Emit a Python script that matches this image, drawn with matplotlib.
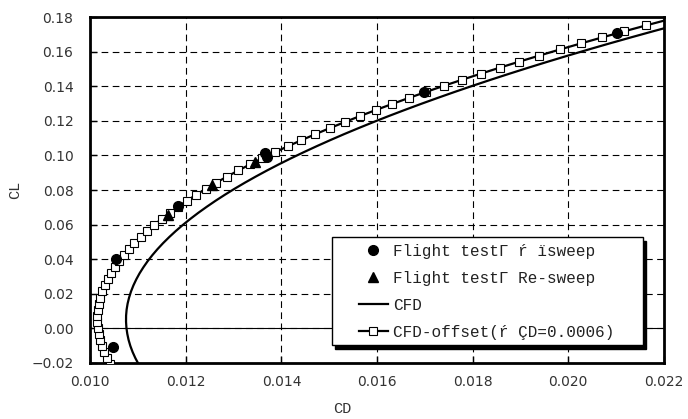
import numpy as np
import matplotlib.pyplot as plt
from matplotlib.patches import Rectangle
from matplotlib.ticker import FuncFormatter, MultipleLocator

# flight test, alpha sweep
ft_alpha_cd = [0.01048, 0.01054, 0.01184, 0.01366, 0.01370, 0.01699, 0.02102]
ft_alpha_cl = [-0.0108, 0.0400, 0.0708, 0.1014, 0.0990, 0.1366, 0.1708]

# flight test, Re sweep
ft_re_cd = [0.01163, 0.01255, 0.01345]
ft_re_cl = [0.0655, 0.0829, 0.0962]

# CFD polar
cfd_cl = [-0.0242, -0.0207, -0.0172, -0.0137, -0.0102, -0.0067, -0.0032, 0.0003,
          0.0038, 0.0073, 0.0108, 0.0143, 0.0178, 0.0213, 0.0248, 0.0283,
          0.0318, 0.0353, 0.0388, 0.0423, 0.0458, 0.0493, 0.0528, 0.0563,
          0.0598, 0.0633, 0.0668, 0.0703, 0.0738, 0.0773, 0.0808, 0.0843,
          0.0878, 0.0913, 0.0948, 0.0983, 0.1018, 0.1053, 0.1088, 0.1123,
          0.1158, 0.1193, 0.1228, 0.1263, 0.1298, 0.1333, 0.1368, 0.1403,
          0.1438, 0.1473, 0.1508, 0.1543, 0.1578, 0.1613, 0.1648, 0.1683,
          0.1718, 0.1753, 0.1788, 0.1823]
cfd_cd = [0.011088, 0.011012, 0.010945, 0.010888, 0.010841, 0.010804, 0.010777, 0.010759,
          0.010751, 0.010752, 0.010763, 0.010784, 0.010815, 0.010855, 0.010905, 0.010965,
          0.011034, 0.011114, 0.011202, 0.011301, 0.011409, 0.011527, 0.011655, 0.011792,
          0.011939, 0.012096, 0.012262, 0.012439, 0.012624, 0.012820, 0.013025, 0.013240,
          0.013465, 0.013699, 0.013943, 0.014197, 0.014461, 0.014734, 0.015017, 0.015309,
          0.015612, 0.015924, 0.016245, 0.016577, 0.016918, 0.017269, 0.017629, 0.017999,
          0.018379, 0.018769, 0.019168, 0.019577, 0.019996, 0.020424, 0.020862, 0.021310,
          0.021768, 0.022235, 0.022712, 0.023198]
cd_offset = 0.0006

labels = ["Flight test\u0393 \u0155 \u00efsweep",
          "Flight test\u0393 Re-sweep",
          "CFD",
          "CFD-offset(\u0155 \u00c7D=0.0006)"]

txt_font = "Liberation Mono"
txt_col = "#333333"

fig = plt.figure(figsize=(6.88, 4.19), dpi=100)
ax = fig.add_axes([0.131, 0.134, 0.834, 0.825])

ax.axhline(0, color="k", lw=0.8, zorder=1)
ax.plot(ft_alpha_cd, ft_alpha_cl, "o", color="k", ms=7, label=labels[0], zorder=5)
ax.plot(ft_re_cd, ft_re_cl, "^", color="k", ms=7, label=labels[1], zorder=5)
ax.plot(cfd_cd, cfd_cl, "-", color="k", lw=1.6, label=labels[2], zorder=3)
ax.plot(np.array(cfd_cd) - cd_offset, cfd_cl, "-s", color="k", lw=1.6,
        ms=5.5, mfc="white", mec="k", mew=0.8, label=labels[3], zorder=4)

ax.set_xlim(0.010, 0.022)
ax.set_ylim(-0.02, 0.18)
ax.xaxis.set_major_locator(MultipleLocator(0.002))
ax.yaxis.set_major_locator(MultipleLocator(0.02))
ax.xaxis.set_major_formatter(FuncFormatter(lambda v, p: f"{v:.3f}".replace("-", "\u2212")))
ax.yaxis.set_major_formatter(FuncFormatter(lambda v, p: f"{v:.2f}".replace("-", "\u2212")))
ax.grid(True, color="k", lw=0.8, linestyle=(0, (6, 4)), zorder=0)
ax.tick_params(direction="in", length=5, width=1, colors="k", labelcolor=txt_col,
               labelsize=10)
ax.tick_params(axis="x", pad=9)
ax.tick_params(axis="y", pad=12)
for s in ax.spines.values():
    s.set_linewidth(2)

ax.set_xlabel("CD", fontfamily=txt_font, fontsize=11, color=txt_col)
ax.set_ylabel("CL", fontfamily=txt_font, fontsize=11, color=txt_col)
ax.xaxis.set_label_coords(0.44, -0.113)
ax.yaxis.set_label_coords(-0.118, 0.5)

# legend box with a solid drop shadow, drawn by hand so the side padding can differ
bx0, by0, bx1, by1 = 0.4216, 0.052, 0.9634, 0.364
ax.add_patch(Rectangle((bx0 + 0.006, by0 - 0.0116), bx1 - bx0, by1 - by0,
                       transform=ax.transAxes, facecolor="k", edgecolor="k", zorder=6))
ax.add_patch(Rectangle((bx0, by0), bx1 - bx0, by1 - by0, transform=ax.transAxes,
                       facecolor="white", edgecolor="k", lw=1, zorder=6))

leg = ax.legend(loc="upper left", bbox_to_anchor=(0.4686, 0.345), borderaxespad=0,
                borderpad=0, frameon=False, prop={"family": txt_font, "size": 11.5},
                handlelength=1.81, handletextpad=0.3, labelspacing=0.76)
leg.set_zorder(7)
for t in leg.get_texts():
    t.set_color("#222222")

fig.savefig("out.png", dpi=100)
